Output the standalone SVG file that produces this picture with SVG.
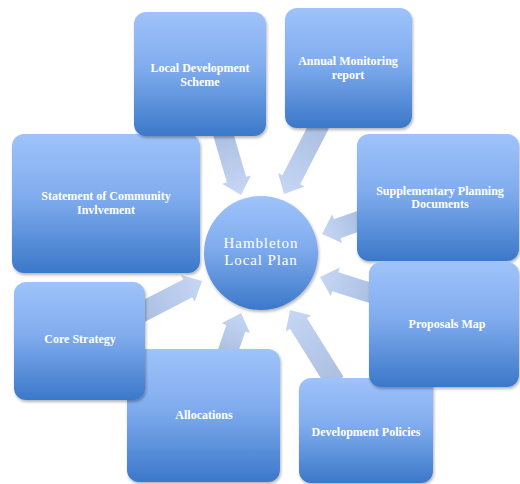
<svg xmlns="http://www.w3.org/2000/svg" width="520" height="484" viewBox="0 0 520 484">
  <defs>
    <linearGradient id="boxFill" x1="0" y1="0" x2="0" y2="1">
      <stop offset="0" stop-color="#9fc3fa"/>
      <stop offset="0.45" stop-color="#80acee"/>
      <stop offset="1" stop-color="#3b78c9"/>
    </linearGradient>
    <linearGradient id="arrowFill" x1="0" y1="0" x2="1" y2="0">
      <stop offset="0" stop-color="#abbfe2"/>
      <stop offset="1" stop-color="#c6d7f4"/>
    </linearGradient>
    <filter id="shadow" x="-10%" y="-10%" width="125%" height="125%">
      <feGaussianBlur in="SourceAlpha" stdDeviation="1.5"/>
      <feOffset dx="1" dy="2" result="b"/>
      <feComponentTransfer><feFuncA type="linear" slope="0.3"/></feComponentTransfer>
      <feMerge><feMergeNode/><feMergeNode in="SourceGraphic"/></feMerge>
    </filter>
  </defs>
  <style>
    .box { fill: url(#boxFill); filter: url(#shadow); }
    .arrow { fill: url(#arrowFill); }
    .label { font-family: "Liberation Serif", "DejaVu Serif", serif; font-weight: bold; font-size: 12px; fill: #ffffff; text-anchor: middle; }
    .hub { font-family: "Liberation Serif", "DejaVu Serif", serif; font-size: 15px; letter-spacing: 0.9px; fill: #ffffff; text-anchor: middle; }
  </style>

  <rect width="520" height="484" fill="#ffffff"/>

  <!-- block arrows pointing at the hub -->
  <g id="connectors">
    <path class="arrow" transform="translate(222,130) rotate(73.7)" d="M0,-10 H51.7 V-15 L67.7,0 L51.7,15 V10 H0 Z"/>
    <path class="arrow" transform="translate(320,124) rotate(117.2)" d="M0,-10 H62.7 V-15 L78.7,0 L62.7,15 V10 H0 Z"/>
    <path class="arrow" transform="translate(362,220) rotate(160.7)" d="M0,-10 H26.4 V-15 L42.4,0 L26.4,15 V10 H0 Z"/>
    <path class="arrow" transform="translate(374,294) rotate(197.5)" d="M0,-10 H40.6 V-15 L56.6,0 L40.6,15 V10 H0 Z"/>
    <path class="arrow" transform="translate(335,382) rotate(-122)" d="M0,-10 H68.9 V-15 L84.9,0 L68.9,15 V10 H0 Z"/>
    <path class="arrow" transform="translate(227,354) rotate(-71.1)" d="M0,-10 H27.3 V-15 L43.3,0 L27.3,15 V10 H0 Z"/>
    <path class="arrow" transform="translate(140,313) rotate(-27.3)" d="M0,-10 H53.8 V-15 L69.8,0 L53.8,15 V10 H0 Z"/>
  </g>

  <g id="hub">
    <circle class="box" cx="261" cy="253" r="57"/>
    <text class="hub" x="261" y="248">Hambleton</text>
    <text class="hub" x="261" y="265">Local Plan</text>
  </g>

  <g id="statement">
    <rect class="box" x="12" y="134" width="188" height="139" rx="12"/>
    <text class="label" x="106" y="200">Statement  of Community</text>
    <text class="label" x="106" y="214">Invlvement</text>
  </g>

  <g id="local-development-scheme">
    <rect class="box" x="134" y="12" width="132" height="124" rx="12"/>
    <text class="label" x="200" y="72">Local Development</text>
    <text class="label" x="200" y="86">Scheme</text>
  </g>

  <g id="annual-monitoring">
    <rect class="box" x="285" y="8" width="127" height="120" rx="12"/>
    <text class="label" x="348" y="65">Annual Monitoring</text>
    <text class="label" x="348" y="79">report</text>
  </g>

  <g id="supplementary-planning">
    <rect class="box" x="357" y="134" width="162" height="127" rx="12"/>
    <text class="label" x="440" y="195">Supplementary Planning</text>
    <text class="label" x="440" y="208">Documents</text>
  </g>

  <g id="development-policies">
    <rect class="box" x="299" y="378" width="134" height="105" rx="12"/>
    <text class="label" x="366" y="436">Development Policies</text>
  </g>

  <g id="proposals-map">
    <rect class="box" x="369" y="262" width="150" height="125" rx="12"/>
    <text class="label" x="447" y="328">Proposals Map</text>
  </g>

  <g id="allocations">
    <rect class="box" x="127" y="349" width="153" height="133" rx="12"/>
    <text class="label" x="204" y="419">Allocations</text>
  </g>

  <g id="core-strategy">
    <rect class="box" x="14" y="282" width="131" height="118" rx="12"/>
    <text class="label" x="80" y="343">Core Strategy</text>
  </g>
</svg>
